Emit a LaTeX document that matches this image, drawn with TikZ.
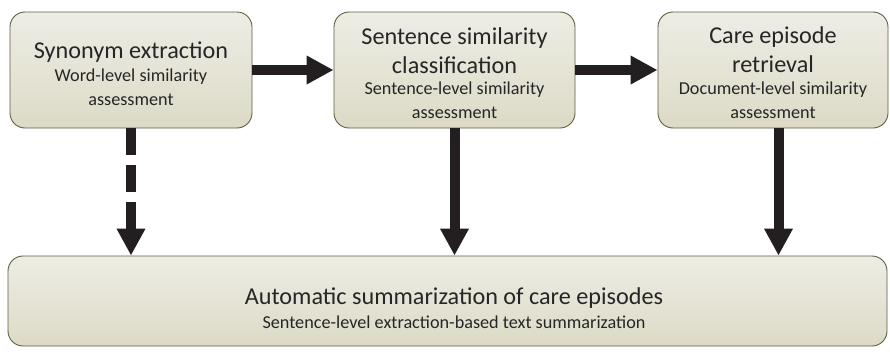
\documentclass[tikz,border=0pt]{standalone}
\usepackage{fontspec}
\setmainfont{Carlito}
\usetikzlibrary{arrows.meta}

\definecolor{boxline}{HTML}{5E5D44}
\definecolor{boxtop}{HTML}{EEEDE5}
\definecolor{boxbottom}{HTML}{DCDAC6}
\definecolor{arrowink}{HTML}{231F20}

\tikzset{
  stage/.style={draw=boxline, line width=0.9pt, rounded corners=15pt,
    top color=boxtop, bottom color=boxbottom, inner sep=0pt},
  headline/.style={font=\fontsize{24.2}{27}\selectfont, text=black!85, inner sep=0pt},
  subline/.style={font=\fontsize{18.2}{23}\selectfont, text=black!85, inner sep=0pt},
  flow/.style={draw=arrowink, line width=10pt,
    -{Triangle[width=27pt,length=27pt]}},
  flowdash/.style={flow, dash pattern=on 27pt off 10pt}
}

\begin{document}
\begin{tikzpicture}[x=1pt,y=-1pt]
  \useasboundingbox (0,0) rectangle (890,351);
  % top row
  \node[stage, minimum width=242pt, minimum height=116pt] (syn) at (131,70) {};
  \node[stage, minimum width=241pt, minimum height=116pt] (sent) at (454.5,70) {};
  \node[stage, minimum width=230pt, minimum height=116pt] (ret) at (773,70) {};
  % bottom box
  \node[stage, minimum width=879pt, minimum height=90pt] (summ) at (447.5,301) {};
  % texts
  \node[headline] (synT) at (131,52) {Synonym extraction};
  \node[subline] (synS1) at (131,77) {Word-level similarity};
  \node[subline] (synS2) at (131,100) {assessment};
  \node[headline] (sentT1) at (454.5,38) {Sentence similarity};
  \node[headline] (sentT2) at (454.5,65) {classification};
  \node[subline] (sentS1) at (454.5,90) {Sentence-level similarity};
  \node[subline] (sentS2) at (454.5,113) {assessment};
  \node[headline] (retT1) at (773,37) {Care episode};
  \node[headline] (retT2) at (773,64) {retrieval};
  \node[subline] (retS1) at (773,90) {Document-level similarity};
  \node[subline] (retS2) at (773,113) {assessment};
  \node[headline] (summT) at (454,298) {Automatic summarization of care episodes};
  \node[subline] (summS) at (454,322) {Sentence-level extraction-based text summarization};
  % arrows
  \draw[flow] (syn.east) -- (sent.west);
  \draw[flow] (sent.east) -- (ret.west);
  \draw[flowdash] (syn.south) -- (syn.south |- summ.north);
  \draw[flow] (sent.south) -- (sent.south |- summ.north);
  \coordinate (retOut) at ([xshift=5.5pt]ret.south);
  \draw[flow] (retOut) -- (retOut |- summ.north);
\end{tikzpicture}
\end{document}
